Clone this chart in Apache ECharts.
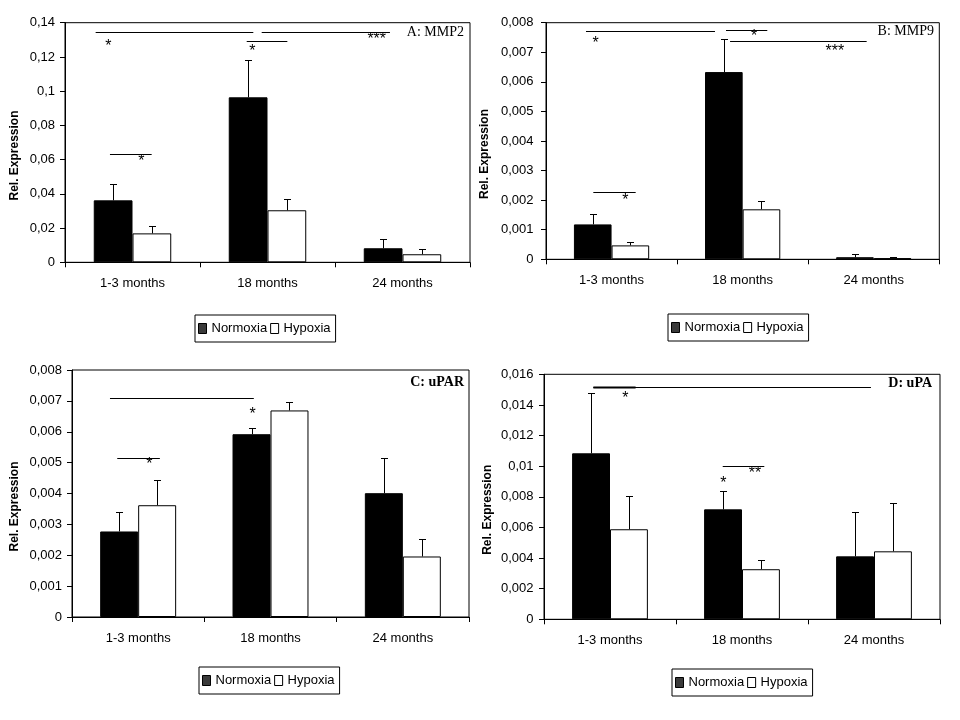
<!DOCTYPE html>
<html>
<head>
<meta charset="utf-8">
<script src="https://cdn.jsdelivr.net/npm/echarts@6/dist/echarts.min.js"></script>
<style>html,body{margin:0;padding:0;background:#fff;}#c{width:960px;height:720px;}</style>
</head>
<body>
<div id="c"></div>
<script>
// ---------- DATA ----------
const categories = ['1-3 months', '18 months', '24 months'];
const seriesNames = ['Normoxia', 'Hypoxia'];
const panelTitles = ['A: MMP2', 'B: MMP9', 'C: uPAR', 'D: uPA'];
const yAxisName = 'Rel. Expression';

// Panel A: MMP2
const normA = [0.0362, 0.0964, 0.0082];
const normSdA = [0.0094, 0.0216, 0.0052];
const hypA = [0.0169, 0.0304, 0.0047];
const hypSdA = [0.0041, 0.0064, 0.0029];
// Panel B: MMP9
const normB = [0.00118, 0.00633, 0.00007];
const normSdB = [0.00034, 0.00111, 0.00010];
const hypB = [0.00047, 0.00169, 0.00004];
const hypSdB = [0.00010, 0.00027, 0.00003];
// Panel C: uPAR
const normC = [0.00277, 0.00592, 0.00401];
const normSdC = [0.00062, 0.00019, 0.00113];
const hypC = [0.00362, 0.00669, 0.00196];
const hypSdC = [0.00081, 0.00026, 0.00056];
// Panel D: uPA
const normD = [0.01084, 0.00718, 0.00411];
const normSdD = [0.00392, 0.00118, 0.00288];
const hypD = [0.00588, 0.00327, 0.00444];
const hypSdD = [0.00215, 0.00058, 0.00314];

// y-axis scales [max, interval]
const yScaleA = [0.14, 0.02];
const yScaleB = [0.008, 0.001];
const yScaleC = [0.008, 0.001];
const yScaleD = [0.016, 0.002];

// significance brackets: [from (category units 0..3), to, value]
const bracketsA = [[0.227, 1.395, 0.1347], [1.457, 2.407, 0.1347], [1.346, 1.647, 0.1291], [0.333, 0.642, 0.0631]];
const starsA = [[0.321, 0.1279, '*'], [1.388, 0.1254, '*'], [2.309, 0.1322, '***'], [0.565, 0.0608, '*']];
const bracketsB = [[0.305, 1.289, 0.00771], [1.373, 1.688, 0.00775], [1.404, 2.446, 0.00737], [0.361, 0.684, 0.002265]];
const starsB = [[0.379, 0.00741, '*'], [1.587, 0.00764, '*'], [2.204, 0.00713, '***'], [0.605, 0.00212, '*']];
const bracketsC = [[0.287, 1.374, 0.00708], [0.342, 0.664, 0.00514]];
const starsC = [[1.364, 0.00668, '*'], [0.584, 0.00506, '*']];
const bracketsD = [[0.374, 2.477, 0.01515], [1.354, 1.669, 0.00999]];
const boldBracketsD = [[0.374, 0.694, 0.01515]];
const starsD = [[0.616, 0.01465, '*'], [1.598, 0.00975, '**'], [1.359, 0.0091, '*']];

// ---------- LAYOUT ----------
const W = 960;
const panels = [
  {norm: normA, normSd: normSdA, hyp: hypA, hypSd: hypSdA, scale: yScaleA, brackets: bracketsA, bold: [], stars: starsA,
   grid: {left: 65, top: 22.7, width: 405, height: 239.6}, labelMargin: 10, nameGap: 44,
   legend: {left: 195, top: 315}, title: {right: W - 464, top: 25, bold: false}},
  {norm: normB, normSd: normSdB, hyp: hypB, hypSd: hypSdB, scale: yScaleB, brackets: bracketsB, bold: [], stars: starsB,
   grid: {left: 546, top: 22.7, width: 393.3, height: 236.6}, labelMargin: 12.5, nameGap: 55,
   legend: {left: 668, top: 314}, title: {right: W - 934, top: 24, bold: false}},
  {norm: normC, normSd: normSdC, hyp: hypC, hypSd: hypSdC, scale: yScaleC, brackets: bracketsC, bold: [], stars: starsC,
   grid: {left: 72, top: 370, width: 397, height: 247}, labelMargin: 10, nameGap: 51,
   legend: {left: 199, top: 667}, title: {right: W - 464, top: 375, bold: true}},
  {norm: normD, normSd: normSdD, hyp: hypD, hypSd: hypSdD, scale: yScaleD, brackets: bracketsD, bold: boldBracketsD, stars: starsD,
   grid: {left: 544, top: 374.3, width: 396, height: 245}, labelMargin: 10.5, nameGap: 50,
   legend: {left: 672, top: 669}, title: {right: W - 932, top: 376, bold: true}}
];

const CAT_GAP = 0.426;          // barCategoryGap fraction
const BAR_FRAC = (1 - CAT_GAP) / 2;
const SANS = 'Liberation Sans, Arial, sans-serif';
const SERIF = 'Liberation Serif, Times New Roman, serif';

function fmt(v) {
  if (v === 0) return '0';
  return String(+v.toFixed(6)).replace('.', ',');
}

const option = {
  animation: false,
  backgroundColor: '#fff',
  grid: [], xAxis: [], yAxis: [], series: [], legend: [], title: []
};

panels.forEach(function (p, k) {
  option.grid.push(Object.assign({show: true, borderColor: '#000', borderWidth: 1, backgroundColor: 'transparent', containLabel: false}, p.grid));
  option.xAxis.push({
    type: 'category', gridIndex: k, data: categories, boundaryGap: true,
    axisLine: {lineStyle: {color: '#000', width: 1}},
    axisTick: {show: true, length: 5, lineStyle: {color: '#000'}},
    axisLabel: {color: '#000', fontFamily: SANS, fontSize: 13, margin: 14.5},
    splitLine: {show: false}
  });
  option.xAxis.push({type: 'value', gridIndex: k, min: 0, max: 3, show: false});
  option.yAxis.push({
    type: 'value', gridIndex: k, min: 0, max: p.scale[0], interval: p.scale[1],
    name: yAxisName, nameLocation: 'middle', nameGap: p.nameGap,
    nameTextStyle: {color: '#000', fontFamily: SANS, fontSize: 12, fontWeight: 'bold', padding: [0, 26, 0, 0]},
    axisLine: {show: true, lineStyle: {color: '#000', width: 1}},
    axisTick: {show: true, length: 5, lineStyle: {color: '#000'}},
    axisLabel: {color: '#000', fontFamily: SANS, fontSize: 13, margin: p.labelMargin, formatter: fmt},
    splitLine: {show: false}
  });
  const xi = 2 * k, xv = 2 * k + 1;
  option.series.push({
    name: seriesNames[0], type: 'bar', xAxisIndex: xi, yAxisIndex: k, data: p.norm,
    barCategoryGap: (CAT_GAP * 100) + '%', barGap: '0%',
    itemStyle: {color: '#000', borderColor: '#000', borderWidth: 1}, silent: true
  });
  option.series.push({
    name: seriesNames[1], type: 'bar', xAxisIndex: xi, yAxisIndex: k, data: p.hyp,
    barCategoryGap: (CAT_GAP * 100) + '%', barGap: '0%',
    itemStyle: {color: '#fff', borderColor: '#000', borderWidth: 1}, silent: true
  });
  // error bars
  const errData = [];
  p.norm.forEach(function (v, i) { errData.push([i, v, v + p.normSd[i], -1]); });
  p.hyp.forEach(function (v, i) { errData.push([i, v, v + p.hypSd[i], 1]); });
  option.series.push({
    type: 'custom', xAxisIndex: xi, yAxisIndex: k, silent: true, z: 5, data: errData,
    renderItem: function (params, api) {
      const i = api.value(0);
      const base = api.coord([i, api.value(1)]);
      const top = api.coord([i, api.value(2)]);
      const cw = api.size([1, 0])[0];
      const x = Math.round(base[0] + api.value(3) * cw * BAR_FRAC / 2) + 0.5;
      const y0 = base[1], y1 = Math.round(top[1]) + 0.5;
      const cap = 3.5;
      return {type: 'group', children: [
        {type: 'line', shape: {x1: x, y1: y0, x2: x, y2: y1}, style: {stroke: '#000', lineWidth: 1}},
        {type: 'line', shape: {x1: x - cap, y1: y1, x2: x + cap, y2: y1}, style: {stroke: '#000', lineWidth: 1}}
      ]};
    }
  });
  // brackets
  option.series.push({
    type: 'custom', xAxisIndex: xv, yAxisIndex: k, silent: true, z: 6, data: p.brackets,
    renderItem: function (params, api) {
      const a = api.coord([api.value(0), api.value(2)]);
      const b = api.coord([api.value(1), api.value(2)]);
      const y = Math.round(a[1]) + 0.5;
      return {type: 'line', shape: {x1: a[0], y1: y, x2: b[0], y2: y}, style: {stroke: '#000', lineWidth: 1}};
    }
  });
  if (p.bold.length) {
    option.series.push({
      type: 'custom', xAxisIndex: xv, yAxisIndex: k, silent: true, z: 7, data: p.bold,
      renderItem: function (params, api) {
        const a = api.coord([api.value(0), api.value(2)]);
        const b = api.coord([api.value(1), api.value(2)]);
        const y = Math.round(a[1]) + 0.5;
        return {type: 'line', shape: {x1: a[0], y1: y, x2: b[0], y2: y}, style: {stroke: '#000', lineWidth: 2}};
      }
    });
  }
  // stars
  const starPos = p.stars.map(function (s) { return [s[0], s[1]]; });
  const starTxt = p.stars.map(function (s) { return s[2]; });
  option.series.push({
    type: 'custom', xAxisIndex: xv, yAxisIndex: k, silent: true, z: 8, data: starPos,
    renderItem: function (params, api) {
      const c = api.coord([api.value(0), api.value(1)]);
      return {type: 'text', x: c[0], y: c[1] + 3.5, style: {
        text: starTxt[params.dataIndex], fill: '#000', font: '16px ' + SANS,
        textAlign: 'center', textVerticalAlign: 'middle'}};
    }
  });
  option.legend.push({
    left: p.legend.left, top: p.legend.top, orient: 'horizontal',
    itemWidth: 8, itemHeight: 10, itemGap: 3, padding: [7, 5, 7, 3],
    borderColor: '#000', borderWidth: 1, borderRadius: 0, selectedMode: false,
    textStyle: {color: '#000', fontFamily: SANS, fontSize: 13},
    data: [
      {name: seriesNames[0], icon: 'rect', itemStyle: {color: '#3a3a3a', borderColor: '#000', borderWidth: 1}},
      {name: seriesNames[1], icon: 'rect', itemStyle: {color: '#fff', borderColor: '#000', borderWidth: 1}}
    ]
  });
  option.title.push({
    text: panelTitles[k], right: p.title.right, top: p.title.top, padding: 0,
    textStyle: {color: '#000', fontFamily: SERIF, fontSize: 14, fontWeight: p.title.bold ? 'bold' : 'normal'}
  });
});

const chart = echarts.init(document.getElementById('c'), null, {renderer: 'canvas'});
chart.setOption(option);
</script>
</body>
</html>
